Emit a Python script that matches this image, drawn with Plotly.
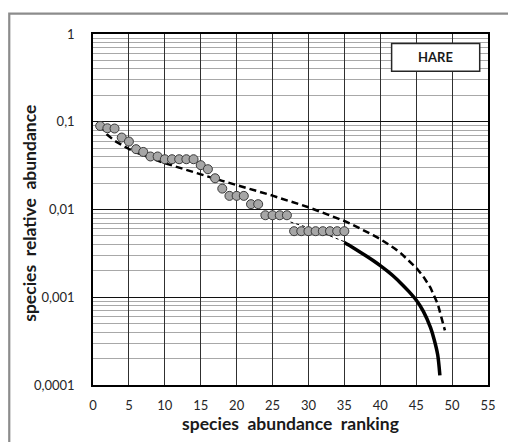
import plotly.graph_objects as go

# observed species relative abundance by rank
rank = list(range(1, 36))
abundance = [
    0.0896, 0.0843, 0.0837, 0.0661, 0.0595, 0.0487, 0.0453, 0.0402, 0.0402, 0.0374,
    0.0374, 0.0374, 0.0374, 0.0374, 0.0320, 0.0288, 0.0227, 0.0173, 0.0143, 0.0143,
    0.0143, 0.0115, 0.0115, 0.0086, 0.0086, 0.0086, 0.0086, 0.00566, 0.00566, 0.00566,
    0.00566, 0.00566, 0.00566, 0.00566, 0.00566,
]

# dashed model curve
model_rank = list(range(1, 50))
model_value = [
    0.0914, 0.0710, 0.0608, 0.0540, 0.0489, 0.0448, 0.0414, 0.0385, 0.0360, 0.0337,
    0.0317, 0.0298, 0.0281, 0.0265, 0.0251, 0.0237, 0.0224, 0.0212, 0.0201, 0.0190,
    0.0180, 0.0170, 0.0161, 0.0152, 0.0144, 0.0135, 0.0128, 0.0120, 0.0113, 0.0106,
    0.0099, 0.0092, 0.0086, 0.0080, 0.0074, 0.0068, 0.0062, 0.0057, 0.0051, 0.0046,
    0.0041, 0.0036, 0.0031, 0.0026, 0.00217, 0.00172, 0.00128, 0.00084, 0.00042,
]

# solid fitted curve (thin dotted part hidden behind the markers)
hidden_rank = [27.5, 30, 33, 35]
hidden_value = [0.0072, 0.0062, 0.0050, 0.0043]
fit_rank = [35, 36, 37, 38, 39, 40, 41, 42, 43, 44, 45, 46, 47, 47.5, 48, 48.3]
fit_value = [0.0042, 0.00376, 0.00335, 0.00297, 0.00262, 0.00229, 0.00198, 0.00169,
             0.00141, 0.00116, 0.00093, 0.00069, 0.00045, 0.00033, 0.00022, 0.000129]

y_ticks = [1, 0.1, 0.01, 0.001, 0.0001]
y_labels = ["1", "0,1", "0,01", "0,001", "0,0001"]
minor_ticks = [m * d for d in (0.0001, 0.001, 0.01, 0.1) for m in range(2, 10)]

FONT = "Lato, 'Open Sans', sans-serif"

fig = go.Figure()
fig.add_trace(go.Scatter(x=model_rank, y=model_value, mode="lines",
                         line=dict(color="black", width=2.5, dash="7px,4px")))
fig.add_trace(go.Scatter(x=hidden_rank, y=hidden_value, mode="lines",
                         line=dict(color="black", width=1, dash="dot")))
fig.add_trace(go.Scatter(x=fit_rank, y=fit_value, mode="lines",
                         line=dict(color="black", width=3.5, shape="spline", smoothing=0.8)))
fig.add_trace(go.Scatter(x=rank, y=abundance, mode="markers",
                         marker=dict(size=9, color="#a6a6a6",
                                     line=dict(color="#3a3a3a", width=1))))

fig.update_layout(
    width=508, height=442,
    margin=dict(l=93, r=18, t=34, b=57),
    paper_bgcolor="white", plot_bgcolor="white",
    showlegend=False,
    font=dict(family=FONT, size=13, color="#262626"),
)
fig.update_xaxes(
    range=[0, 55], tickmode="linear", tick0=0, dtick=5,
    showgrid=True, gridcolor="#303030", gridwidth=1,
    showline=True, linecolor="black", linewidth=1.5, mirror=True,
    zeroline=False, ticks="", ticklabelstandoff=8,
    title=dict(text="<b>species  abundance  ranking</b>", standoff=0,
               font=dict(size=17.5, color="#1a1a1a")),
)
fig.update_yaxes(
    type="log", range=[-4, 0],
    tickmode="array", tickvals=y_ticks, ticktext=y_labels,
    showgrid=True, gridcolor="#101010", gridwidth=1.3,
    minor=dict(tickmode="array", tickvals=minor_ticks, showgrid=True,
               gridcolor="#a8a8a8", gridwidth=1.2, ticks=""),
    showline=True, linecolor="black", linewidth=1.5, mirror=True,
    zeroline=False, ticks="", ticklabelstandoff=14,
)

# y axis title placed by hand
fig.add_annotation(xref="paper", yref="paper", x=-0.161, y=0.489,
                   text="<b>species  relative  abundance</b>", textangle=-90,
                   showarrow=False, xanchor="center", yanchor="middle",
                   font=dict(size=17.5, color="#1a1a1a"))

# label box
fig.add_shape(type="rect", xref="paper", yref="paper",
              x0=0.756, x1=0.979, y0=0.894, y1=0.973,
              fillcolor="white", line=dict(color="#262626", width=1.5), layer="above")
fig.add_annotation(xref="paper", yref="paper", x=0.8675, y=0.9335,
                   text="<b>HARE</b>", showarrow=False,
                   xanchor="center", yanchor="middle",
                   font=dict(size=13, color="#1a1a1a"))

# outer chart frame
fig.add_shape(type="rect", xref="paper", yref="paper",
              x0=-0.212, x1=1.07, y0=-0.2, y1=1.0583,
              line=dict(color="#8c8c8c", width=2.2), layer="below")

fig.write_html("out.html", config={"displayModeBar": False},
               post_script="document.body.style.margin='0';")
